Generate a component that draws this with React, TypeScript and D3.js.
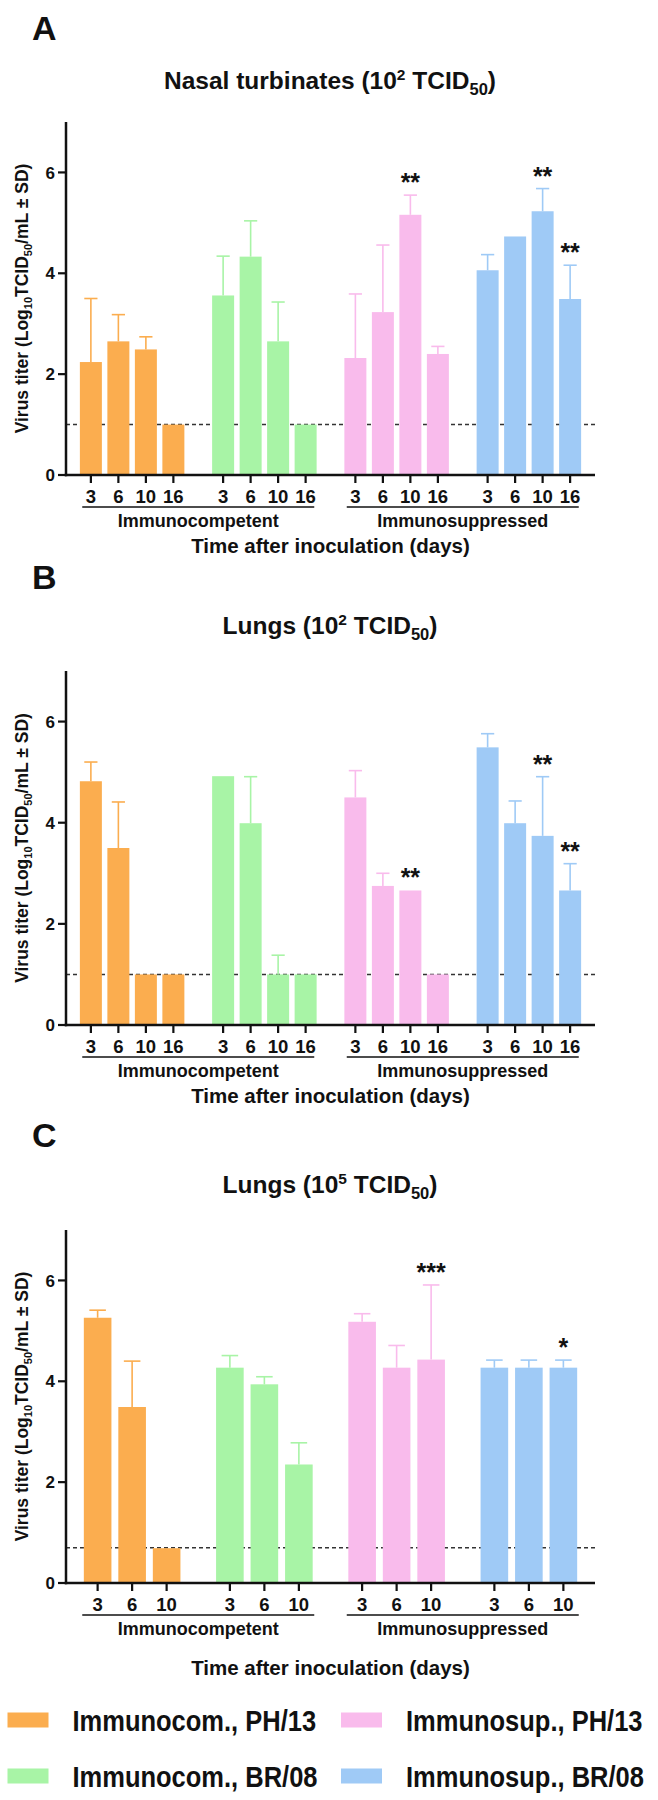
import React, { useLayoutEffect } from "react";
import * as d3 from "d3";

// ---------- data ----------
const groupKeys = ["icPH", "icBR", "isPH", "isBR"];
const groupColors = ["#FBAD4F", "#A8F4A6", "#F9BBEC", "#9FCAF6"];
const legendLabels = ["Immunocom., PH/13", "Immunocom., BR/08", "Immunosup., PH/13", "Immunosup., BR/08"];
const statusLabels = ["Immunocompetent", "Immunosuppressed"];
const yTicks = [0, 2, 4, 6];
const daysAB = ["3", "6", "10", "16"];
const daysC = ["3", "6", "10"];

// Panel A: Nasal turbinates (10^2 TCID50)
const aMeans = [
  [2.24, 2.65, 2.49, 1.0],
  [3.56, 4.33, 2.65, 1.0],
  [2.32, 3.23, 5.16, 2.4],
  [4.06, 4.73, 5.23, 3.49],
];
const aSD = [
  [1.26, 0.53, 0.25, 0],
  [0.78, 0.71, 0.78, 0],
  [1.27, 1.33, 0.39, 0.15],
  [0.31, 0, 0.45, 0.67],
];
const aStars = [
  ["", "", "", ""],
  ["", "", "", ""],
  ["", "", "**", ""],
  ["", "", "**", "**"],
];

// Panel B: Lungs (10^2 TCID50)
const bMeans = [
  [4.82, 3.5, 1.0, 1.0],
  [4.92, 3.99, 1.0, 1.0],
  [4.5, 2.75, 2.66, 1.0],
  [5.49, 3.99, 3.74, 2.66],
];
const bSD = [
  [0.38, 0.91, 0, 0],
  [0, 0.92, 0.38, 0],
  [0.53, 0.25, 0, 0],
  [0.27, 0.44, 1.17, 0.53],
];
const bStars = [
  ["", "", "", ""],
  ["", "", "", ""],
  ["", "", "**", ""],
  ["", "", "**", "**"],
];

// Panel C: Lungs (10^5 TCID50)
const cMeans = [
  [5.26, 3.49, 0.69],
  [4.27, 3.94, 2.35],
  [5.18, 4.27, 4.43],
  [4.27, 4.27, 4.27],
];
const cSD = [
  [0.15, 0.91, 0],
  [0.24, 0.15, 0.43],
  [0.16, 0.44, 1.48],
  [0.15, 0.15, 0.15],
];
const cStars = [
  ["", "", ""],
  ["", "", ""],
  ["", "", "***"],
  ["", "", "*"],
];

const panels = [
  { letter: "A", title: "Nasal turbinates (10", sup: "2", days: daysAB, means: aMeans, sds: aSD, stars: aStars, lod: 1.0,
    y0: 475, yTop: 122, letterY: 40, titleY: 89, groupW: 110, timeDy: 71 },
  { letter: "B", title: "Lungs (10", sup: "2", days: daysAB, means: bMeans, sds: bSD, stars: bStars, lod: 1.0,
    y0: 1025, yTop: 671, letterY: 589, titleY: 634, groupW: 110, timeDy: 71 },
  { letter: "C", title: "Lungs (10", sup: "5", days: daysC, means: cMeans, sds: cSD, stars: cStars, lod: 0.7,
    y0: 1583, yTop: 1230, letterY: 1147, titleY: 1193, groupW: 103.5, timeDy: 85 },
];

const FONT = "'Liberation Sans', Arial, Helvetica, sans-serif";
const AX_L = 66;
const AX_R = 595;

function Panel({ p }: { p: any }) {
  const y = d3.scaleLinear().domain([0, 7]).range([p.y0, p.yTop]);
  const gx = d3.scaleBand<string>().domain(groupKeys).range([AX_L, AX_R]).padding(0);
  const gCenter = (g: string) => (gx(g) as number) + gx.bandwidth() / 2;
  const inner = (g: string) =>
    d3.scaleBand<string>()
      .domain(p.days)
      .range([gCenter(g) - p.groupW / 2, gCenter(g) + p.groupW / 2])
      .paddingInner(0.2)
      .paddingOuter(0.1);
  const midY = (p.y0 + p.yTop) / 2;

  return (
    <g fontFamily={FONT} fontWeight="bold">
      <text x={32} y={p.letterY} fontSize={34} fill="#111">{p.letter}</text>
      <text x={330} y={p.titleY} fontSize={24.5} textAnchor="middle" fill="#111">
        <tspan>{p.title}</tspan>
        <tspan fontSize={15.5} dy={-9}>{p.sup}</tspan>
        <tspan dy={9}>{" TCID"}</tspan>
        <tspan fontSize={16.5} dy={6}>50</tspan>
        <tspan dy={-6}>)</tspan>
      </text>

      {/* y label */}
      <text transform={`translate(28,${midY}) rotate(-90)`} fontSize={17.5} textAnchor="middle" fill="#111">
        <tspan>Virus titer (Log</tspan>
        <tspan fontSize={11} dy={4}>10</tspan>
        <tspan dy={-4}>TCID</tspan>
        <tspan fontSize={11} dy={4}>50</tspan>
        <tspan dy={-4}>/mL ± SD)</tspan>
      </text>

      {/* detection limit */}
      <line x1={AX_L} x2={AX_R} y1={y(p.lod)} y2={y(p.lod)} stroke="#333" strokeWidth={1.5} strokeDasharray="4,3" />

      {/* bars */}
      {groupKeys.map((g, gi) => {
        const xs = inner(g);
        const bw = xs.bandwidth();
        return (
          <g key={g}>
            {p.days.map((d: string, di: number) => {
              const m = p.means[gi][di];
              const sd = p.sds[gi][di];
              const x = xs(d) as number;
              const cx = x + bw / 2;
              const top = y(m + sd);
              const star = p.stars[gi][di];
              return (
                <g key={d}>
                  <rect x={x} y={y(m)} width={bw} height={p.y0 - y(m)} fill={groupColors[gi]} />
                  {sd > 0 && (
                    <g stroke={groupColors[gi]} strokeWidth={1.6}>
                      <line x1={cx} x2={cx} y1={y(m)} y2={top} />
                      <line x1={cx - bw * 0.3} x2={cx + bw * 0.3} y1={top} y2={top} />
                    </g>
                  )}
                  {star && (
                    <text x={cx} y={top - 4} fontSize={25} textAnchor="middle" fill="#111">{star}</text>
                  )}
                  <line x1={cx} x2={cx} y1={p.y0} y2={p.y0 + 8} stroke="#111" strokeWidth={2.2} />
                  <text x={cx} y={p.y0 + 21} dy="0.36em" fontSize={18.5} textAnchor="middle" fill="#111">{d}</text>
                </g>
              );
            })}
          </g>
        );
      })}

      {/* axes */}
      <line x1={AX_L} x2={AX_L} y1={p.y0 + 1.2} y2={y(7)} stroke="#111" strokeWidth={2.5} />
      <line x1={AX_L - 1.2} x2={AX_R} y1={p.y0} y2={p.y0} stroke="#111" strokeWidth={2.5} />
      {yTicks.map((t) => (
        <g key={t}>
          <line x1={AX_L - 8} x2={AX_L} y1={y(t)} y2={y(t)} stroke="#111" strokeWidth={2.2} />
          <text x={AX_L - 11} y={y(t)} dy="0.36em" fontSize={17} textAnchor="end" fill="#111">{t}</text>
        </g>
      ))}

      {/* status underline + labels */}
      {statusLabels.map((s, si) => {
        const c = (gCenter(groupKeys[si * 2]) + gCenter(groupKeys[si * 2 + 1])) / 2;
        return (
          <g key={s}>
            <line x1={c - 116} x2={c + 116} y1={p.y0 + 32} y2={p.y0 + 32} stroke="#111" strokeWidth={1.5} />
            <text x={c} y={p.y0 + 46} dy="0.36em" fontSize={18} textAnchor="middle" fill="#111">{s}</text>
          </g>
        );
      })}
      <text x={(AX_L + AX_R) / 2} y={p.y0 + p.timeDy} dy="0.36em" fontSize={20.5} textAnchor="middle" fill="#111">
        Time after inoculation (days)
      </text>
    </g>
  );
}

function Legend() {
  const cols = [0, 0, 1, 1];
  const rows = [0, 1, 0, 1];
  const order = [0, 1, 2, 3];
  const colX = [7.5, 341];
  const rowY = [1720, 1776];
  return (
    <g fontFamily={FONT} fontWeight="bold">
      {order.map((i) => (
        <g key={i}>
          <rect x={colX[cols[i]]} y={rowY[rows[i]] - 7.5} width={41} height={15} fill={groupColors[i]} />
          <g transform={`translate(${colX[cols[i]] + 65},${rowY[rows[i]] + 10.5}) scale(1,1.14)`}>
            <text x={0} y={0} fontSize={25.5} fill="#111">{legendLabels[i]}</text>
          </g>
        </g>
      ))}
    </g>
  );
}

export default function App() {
  useLayoutEffect(() => {
    document.body.style.margin = "0";
  }, []);
  return (
    <svg width={658} height={1800} style={{ display: "block", background: "#fff" }}>
      <rect width={658} height={1800} fill="#fff" />
      {panels.map((p) => (
        <Panel key={p.letter} p={p} />
      ))}
      <Legend />
    </svg>
  );
}
